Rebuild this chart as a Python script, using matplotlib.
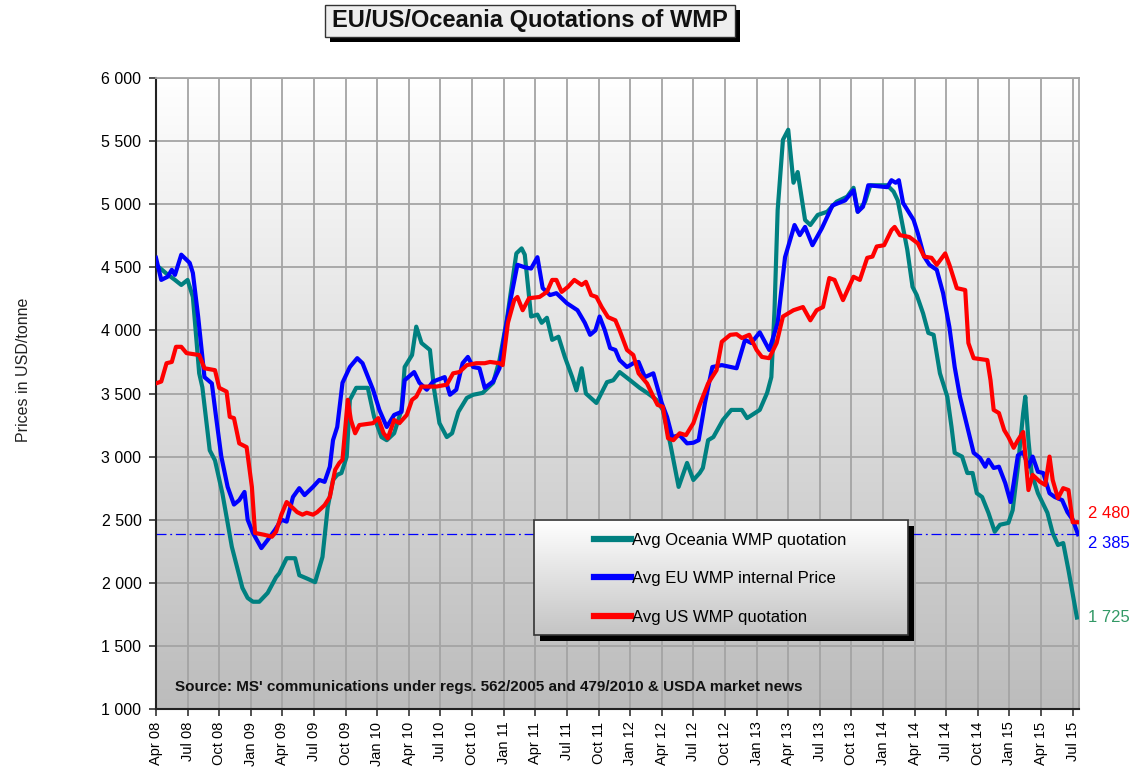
import numpy as np
import matplotlib
matplotlib.use("Agg")
import matplotlib.pyplot as plt
from matplotlib.colors import LinearSegmentedColormap
from matplotlib.patches import Rectangle
from matplotlib.ticker import FuncFormatter

plt.rcParams['font.family'] = ['Liberation Sans', 'DejaVu Sans']

# x values are months since Apr 2008
oce_m = [0, 1.0, 1.8, 2.4, 3.0, 3.5, 4.1, 4.4, 5.1, 5.6, 6.3, 7.2, 8.2, 8.7, 9.2, 9.8, 10.6, 11.4,
         11.7, 12.4, 13.2, 13.6, 14.3, 15.1, 15.8, 16.3, 16.8, 17.2, 17.6, 18.1, 18.4, 19.0, 20.1,
         20.7, 21.4, 21.9, 22.6, 23.3, 23.6, 24.3, 24.7, 25.2, 26.0, 26.4, 26.9, 27.6, 28.1, 28.7,
         29.5, 30.1, 31.0, 32.0, 32.6, 33.3, 34.2, 34.7, 35.0, 35.6, 36.2, 36.6, 37.1, 37.6, 38.2,
         38.8, 39.5, 39.9, 40.4, 40.8, 41.8, 42.8, 43.4, 44.0, 45.0, 45.9, 46.7, 47.5, 48.1, 48.8,
         49.6, 50.4, 51.0, 51.6, 51.9, 52.4, 52.9, 53.8, 54.6, 55.6, 56.1, 57.3, 58.0, 58.4, 58.7,
         59.0, 59.5, 60.0, 60.5, 60.9, 61.6, 62.1, 62.8, 63.7, 64.6, 65.6, 66.2, 66.6, 67.3, 67.8,
         69.4, 70.0, 70.4, 71.3, 71.8, 72.2, 72.8, 73.3, 73.8, 74.4, 75.1, 75.5, 75.8, 76.5, 77.0,
         77.5, 77.9, 78.4, 79.0, 79.6, 80.1, 80.9, 81.3, 81.8, 82.3, 82.5, 82.8, 83.1, 83.7, 84.6,
         85.1, 85.6, 86.1, 86.6, 87.4]
oce_v = [4520, 4450, 4400, 4360, 4400, 4265, 3660, 3550, 3050, 2970, 2710, 2285, 1960, 1880, 1850,
         1850, 1920, 2045, 2075, 2195, 2195, 2060, 2035, 2005, 2205, 2600, 2815, 2855, 2870, 3000,
         3450, 3545, 3545, 3315, 3155, 3130, 3185, 3370, 3710, 3805, 4030, 3900, 3845, 3530, 3265,
         3155, 3185, 3355, 3465, 3490, 3505, 3585, 3765, 4085, 4610, 4650, 4600, 4110, 4125, 4060,
         4100, 3925, 3950, 3790, 3630, 3525, 3700, 3500, 3425, 3590, 3605, 3670, 3605, 3545, 3500,
         3450, 3370, 3105, 2760, 2950, 2815, 2870, 2910, 3130, 3155, 3290, 3370, 3370, 3305, 3370,
         3505, 3630, 4160, 4955, 5510, 5590, 5170, 5255, 4875, 4835, 4915, 4940, 5020, 5060, 5130,
         4940, 5020, 5150, 5150, 5100, 5030, 4640, 4345, 4280, 4135, 3980, 3965, 3660, 3475, 3235,
         3030, 3000, 2870, 2870, 2710, 2680, 2555, 2405, 2460, 2475, 2575, 2920, 3345, 3475, 3130,
         2870, 2710, 2555, 2395, 2300, 2315, 2100, 1725]

eu_m = [0, 0.5, 1.1, 1.5, 1.8, 2.4, 3.2, 3.5, 4.0, 4.6, 5.3, 5.7, 6.2, 6.8, 7.4, 7.9, 8.4, 8.7,
        9.2, 10.0, 10.6, 11.3, 11.9, 12.4, 13.0, 13.6, 14.1, 14.9, 15.5, 16.0, 16.5, 16.8, 17.2,
        17.7, 18.4, 19.1, 19.6, 20.6, 21.2, 21.9, 22.6, 23.3, 23.6, 24.5, 25.0, 25.7, 26.3, 27.4,
        27.9, 28.5, 29.1, 29.6, 30.1, 30.7, 31.2, 32.0, 32.6, 33.1, 33.7, 34.3, 35.0, 35.6, 36.2,
        36.7, 37.4, 38.0, 39.0, 40.0, 40.7, 41.2, 41.7, 42.1, 42.6, 43.1, 43.6, 44.0, 44.7, 45.3,
        45.8, 46.4, 47.2, 48.0, 48.5, 49.0, 49.7, 50.4, 51.0, 51.5, 52.1, 52.8, 53.7, 55.1, 55.9,
        56.5, 57.3, 58.2, 59.0, 59.7, 60.6, 61.1, 61.6, 62.3, 63.2, 64.2, 65.4, 66.2, 66.6, 67.1,
        67.6, 69.4, 69.8, 70.2, 70.5, 70.9, 71.9, 72.3, 72.9, 73.4, 74.1, 74.7, 75.3, 75.8, 76.3,
        77.0, 77.6, 78.2, 78.7, 79.0, 79.5, 80.0, 80.6, 81.1, 81.4, 81.8, 82.3, 82.8, 83.2, 83.7,
        84.2, 84.8, 85.3, 86.0, 86.5, 87.0, 87.5]
eu_v = [4575, 4400, 4425, 4480, 4440, 4600, 4535, 4455, 4110, 3630, 3580, 3315, 3000, 2760, 2620,
        2655, 2720, 2500, 2395, 2275, 2340, 2420, 2500, 2485, 2680, 2750, 2695, 2760, 2815, 2800,
        2920, 3130, 3235, 3585, 3710, 3780, 3740, 3530, 3370, 3235, 3330, 3355, 3605, 3670, 3585,
        3530, 3595, 3630, 3490, 3530, 3740, 3790, 3710, 3700, 3545, 3595, 3700, 3975, 4265, 4520,
        4500, 4490, 4580, 4335, 4280, 4295, 4215, 4160, 4060, 3965, 4000, 4110, 4000, 3860, 3845,
        3765, 3710, 3740, 3750, 3630, 3660, 3425, 3315, 3155, 3170, 3105, 3110, 3130, 3425, 3710,
        3725, 3700, 3925, 3900, 3985, 3845, 4060, 4580, 4835, 4755, 4820, 4675, 4810, 4990, 5030,
        5110, 4940, 4980, 5150, 5135, 5190, 5170, 5190, 5010, 4875, 4770, 4585, 4520, 4480, 4295,
        4025, 3710, 3475, 3235, 3030, 2990, 2920, 2975, 2910, 2920, 2790, 2640, 2790, 3010, 3035,
        2920, 3000, 2880, 2870, 2710, 2680, 2655, 2560, 2500, 2385]

us_m = [0, 0.5, 1.0, 1.5, 1.9, 2.4, 2.9, 4.1, 4.6, 5.6, 6.0, 6.7, 7.0, 7.4, 7.9, 8.6, 9.1, 9.4,
        10.3, 11.0, 11.4, 11.9, 12.4, 12.9, 13.4, 13.9, 14.3, 14.9, 15.3, 16.0, 16.5, 17.0, 17.4,
        17.7, 18.2, 18.5, 18.9, 19.3, 20.6, 21.1, 21.6, 22.0, 22.6, 23.1, 23.8, 24.3, 24.7, 25.2,
        26.6, 27.6, 28.2, 28.8, 29.5, 30.4, 31.2, 31.7, 32.6, 32.9, 33.4, 34.0, 34.3, 34.8, 35.4,
        36.4, 37.1, 37.6, 38.0, 38.5, 39.1, 39.7, 40.4, 40.8, 41.3, 41.8, 42.3, 42.9, 43.6, 44.0,
        44.7, 45.3, 45.8, 46.6, 47.2, 47.6, 48.1, 48.6, 49.1, 49.7, 50.3, 51.0, 51.6, 52.4, 53.2,
        53.7, 54.5, 55.1, 55.6, 56.3, 57.0, 57.5, 58.2, 58.9, 59.5, 60.5, 61.4, 62.1, 62.7, 63.3,
        63.9, 64.4, 65.2, 66.2, 66.8, 67.5, 68.0, 68.4, 69.1, 69.8, 70.1, 70.6, 71.5, 72.3, 72.9,
        73.6, 74.1, 74.9, 75.3, 76.0, 76.8, 77.1, 77.6, 78.9, 79.2, 79.5, 80.0, 80.5, 80.9, 81.4,
        81.8, 82.3, 82.8, 83.2, 83.9, 84.4, 84.8, 85.1, 85.6, 86.1, 86.6, 87.0, 87.5]
us_v = [3580, 3595, 3740, 3750, 3870, 3870, 3820, 3805, 3700, 3685, 3545, 3515, 3315, 3305, 3105,
        3075, 2760, 2395, 2380, 2365, 2405, 2540, 2640, 2600, 2560, 2540, 2555, 2540, 2560, 2615,
        2680, 2895, 2950, 2975, 3450, 3290, 3185, 3250, 3265, 3305, 3185, 3145, 3290, 3265, 3330,
        3450, 3475, 3555, 3555, 3570, 3660, 3670, 3725, 3740, 3740, 3750, 3740, 3725, 4060, 4240,
        4265, 4160, 4255, 4265, 4305, 4400, 4400, 4305, 4345, 4400, 4360, 4385, 4280, 4265, 4185,
        4105, 4080, 4000, 3845, 3805, 3660, 3580, 3475, 3410, 3395, 3145, 3130, 3185, 3170, 3265,
        3410, 3580, 3685, 3910, 3965, 3970, 3940, 3965, 3845, 3790, 3780, 3900, 4110, 4160, 4185,
        4080, 4160, 4185, 4415, 4400, 4240, 4425, 4400, 4575, 4585, 4665, 4675, 4795, 4820, 4755,
        4740, 4690, 4585, 4575, 4520, 4610, 4520, 4335, 4320, 3900, 3780, 3765, 3605, 3370, 3345,
        3210, 3155, 3070, 3130, 3195, 2735, 2855, 2800, 2775, 3000, 2815, 2670, 2750, 2735, 2480,
        2480]

tick_months = list(range(0, 88, 3))
tick_labels = ['Apr 08', 'Jul 08', 'Oct 08', 'Jan 09', 'Apr 09', 'Jul 09', 'Oct 09', 'Jan 10',
               'Apr 10', 'Jul 10', 'Oct 10', 'Jan 11', 'Apr 11', 'Jul 11', 'Oct 11', 'Jan 12',
               'Apr 12', 'Jul 12', 'Oct 12', 'Jan 13', 'Apr 13', 'Jul 13', 'Oct 13', 'Jan 14',
               'Apr 14', 'Jul 14', 'Oct 14', 'Jan 15', 'Apr 15', 'Jul 15']
eu_ref = 2385

teal = '#008080'
blue = '#0000ff'
red = '#ff0000'

fig = plt.figure(figsize=(11.32, 7.7), dpi=100)
ax = fig.add_axes([0.1378, 0.0792, 0.8154, 0.8195])

# gradient background of the plot area
grad_cmap = LinearSegmentedColormap.from_list('bg', ['#bcbcbc', '#ffffff'])
grad = np.linspace(0, 1, 256).reshape(-1, 1)
ax.imshow(grad, extent=[0, 1, 0, 1], transform=ax.transAxes, origin='lower',
          aspect='auto', cmap=grad_cmap, zorder=-2)

ax.plot(oce_m, oce_v, color=teal, lw=3.0, zorder=3, label='Avg Oceania WMP quotation')
ax.plot(eu_m, eu_v, color=blue, lw=3.0, zorder=4, label='Avg EU WMP internal Price')
ax.plot(us_m, us_v, color=red, lw=3.0, zorder=5, label='Avg US WMP quotation')
ax.axhline(eu_ref, color=blue, lw=0.9, ls=(0, (8, 3, 1.5, 3)), zorder=2)

ax.set_xticks(tick_months)
ax.set_xticklabels(tick_labels, rotation=90)
ax.set_yticks(range(1000, 6001, 500))
ax.yaxis.set_major_formatter(FuncFormatter(lambda v, p: f'{int(v):,}'.replace(',', ' ')))
ax.tick_params(axis='both', direction='out', length=5, width=1.2, color='#333333')
ax.tick_params(axis='y', pad=5.5, labelsize=11.5)
ax.tick_params(axis='x', pad=4, labelsize=10.5)
ax.grid(True, color='#a4a4a4', lw=1.3)
ax.set_axisbelow(True)
for s in ['left', 'bottom']:
    ax.spines[s].set_color('#222222')
    ax.spines[s].set_linewidth(1.5)
for s in ['top', 'right']:
    ax.spines[s].set_color('#a4a4a4')
    ax.spines[s].set_linewidth(1.3)

# end-of-series labels
ax.annotate('2 480', xy=(us_m[-1], us_v[-1]), xytext=(7, 6), textcoords='offset points',
            color=red, fontsize=12, va='center', annotation_clip=False)
ax.annotate('2 385', xy=(eu_m[-1], eu_v[-1]), xytext=(7, -7), textcoords='offset points',
            color=blue, fontsize=12, va='center', annotation_clip=False)
ax.annotate('1 725', xy=(oce_m[-1], oce_v[-1]), xytext=(8, 0), textcoords='offset points',
            color='#339966', fontsize=12, va='center', annotation_clip=False)

ax.text(0.021, 0.035, "Source: MS' communications under regs. 562/2005 and 479/2010 & USDA market news",
        transform=ax.transAxes, fontsize=11, fontweight='bold', va='center', color='#111111')

# legend box with shadow and gradient
bx0, bx1, by0, by1 = 0.410, 0.815, 0.117, 0.2995
ax.add_patch(Rectangle((bx0 + 0.0065, by0 - 0.0095), bx1 - bx0, by1 - by0, transform=ax.transAxes,
                       facecolor='black', edgecolor='none', zorder=6))
box_cmap = LinearSegmentedColormap.from_list('box', ['#c4c4c4', '#ffffff'])
ax.imshow(grad, extent=[bx0, bx1, by0, by1], transform=ax.transAxes, origin='lower',
          aspect='auto', cmap=box_cmap, zorder=7)
ax.add_patch(Rectangle((bx0, by0), bx1 - bx0, by1 - by0, transform=ax.transAxes,
                       facecolor='none', edgecolor='#333333', lw=1.2, zorder=8))
leg = ax.legend(loc='upper left', bbox_to_anchor=(0.475, 0.279), frameon=False, fontsize=12,
                handlelength=2.2, handletextpad=0.05, labelspacing=1.4, borderpad=0,
                borderaxespad=0)
leg.set_zorder(9)
for line in leg.get_lines():
    line.set_linewidth(4.5)

ax.set_xlim(0, 87.6)
ax.set_ylim(1000, 6000)

# title with shadow box
W, H = 1132, 770
fig.patches.append(Rectangle(((325 + 5) / W, 1 - (37 + 5) / H), 410 / W, 32 / H,
                             transform=fig.transFigure, facecolor='black', edgecolor='none'))
fig.patches.append(Rectangle((325 / W, 1 - 37 / H), 410 / W, 32 / H,
                             transform=fig.transFigure, facecolor='#eeeeee', edgecolor='#333333', lw=1))
fig.text(530 / W, 1 - 21 / H, 'EU/US/Oceania Quotations of WMP', ha='center', va='center',
         fontsize=17, fontweight='bold', color='#111111')

fig.text(24 / W, 1 - 370 / H, 'Prices in USD/tonne', rotation=90, ha='center', va='center',
         fontsize=11.5, color='#222222')

fig.savefig('out.png', dpi=100)
